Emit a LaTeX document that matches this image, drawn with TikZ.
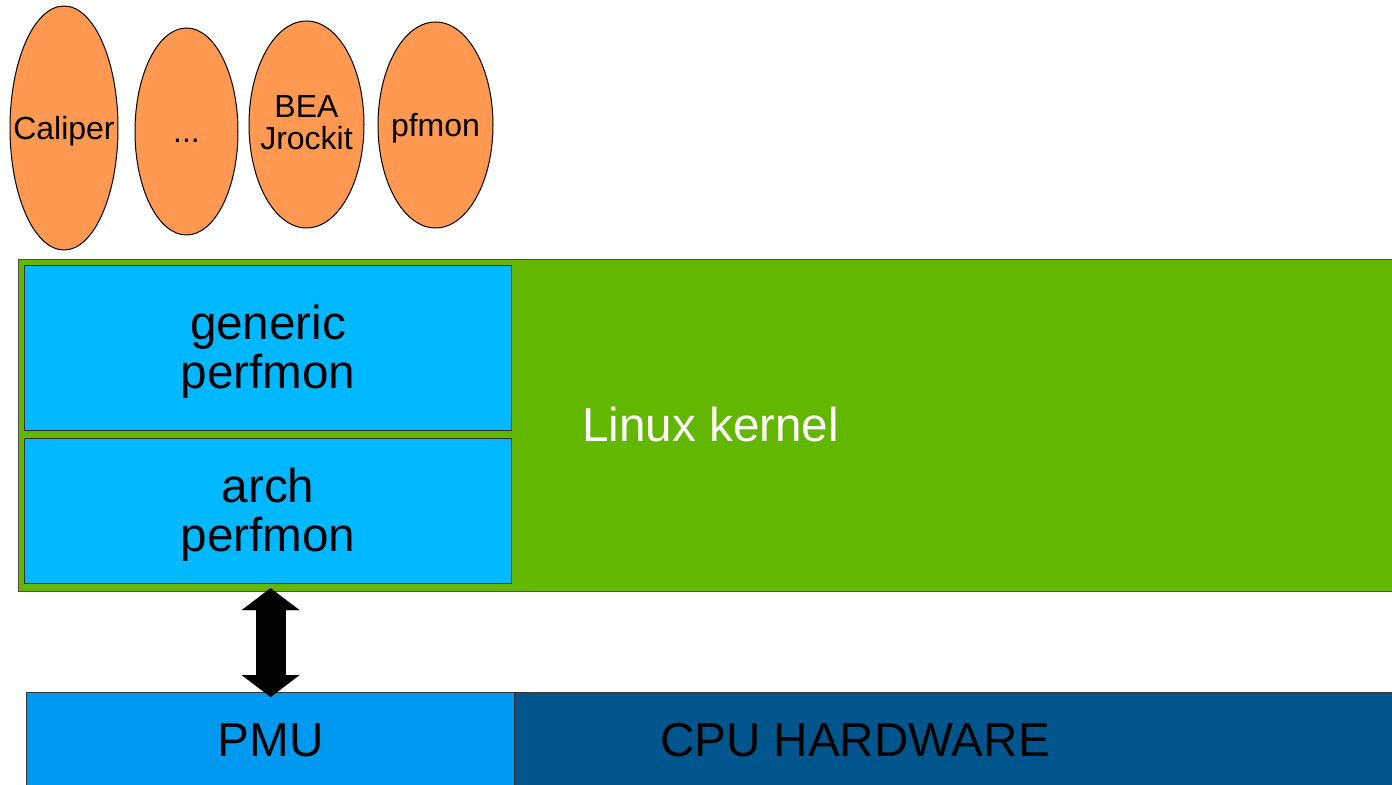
\documentclass[tikz,border=0pt]{standalone}
\usepackage{fontspec}
\setmainfont{Liberation Sans}
\usetikzlibrary{shapes.geometric,arrows.meta}

\definecolor{appfill}{HTML}{FF9850}
\definecolor{kernelfill}{HTML}{64B700}
\definecolor{pmfill}{HTML}{00B8FF}
\definecolor{pmufill}{HTML}{0099F0}
\definecolor{cpufill}{HTML}{00558D}

\begin{document}
\begin{tikzpicture}[x=0.5pt,y=-0.5pt,
  app/.style={ellipse, draw=black, line width=0.5pt, fill=appfill, inner sep=0pt},
  apptext/.style={font=\fontsize{16}{16}\selectfont, align=center, inner sep=0pt,
    text height=15.5pt, text depth=4pt},
  apptwo/.style={apptext, text height=29.5pt},
  block/.style={rectangle, draw=black!80, line width=0.6pt, anchor=north west, inner sep=0pt},
  blocktext/.style={font=\fontsize{23.8}{24.5}\selectfont, align=center,
    text height=23pt, text depth=5.9pt},
  blocktwo/.style={blocktext, text height=46.4pt},
  bus/.style={line width=15pt,
    {Triangle[width=29pt,length=11pt,line width=0.1pt]}-{Triangle[width=29pt,length=11pt,line width=0.1pt]}}
]
\clip (0,0) rectangle (1392,785);

% ===== Tools on top =====
\node[app, minimum width=54pt, minimum height=122pt] (caliper) at (64,128) {};
\node[apptext] (caliperlabel) at (caliper) {Caliper};
\node[app, minimum width=51.5pt, minimum height=103.5pt] (more) at (186.5,131.5) {};
\node[apptext] (morelabel) at (more) {...};
\node[app, minimum width=57.5pt, minimum height=103.5pt] (jrockit) at (306.5,124.5) {};
\node[apptwo] (jrockitlabel) at (jrockit) {BEA\\Jrockit};
\node[app, minimum width=57.5pt, minimum height=103pt] (pfmon) at (435.5,125) {};
\node[apptext] (pfmonlabel) at (pfmon) {pfmon};

% ===== Kernel =====
\node[block, draw=black!70, fill=kernelfill, minimum width=691pt, minimum height=166pt] (kernel) at (18,259) {};
\node[blocktext, text=white, anchor=base west, inner sep=0pt] (kernellabel) at (582,442) {Linux kernel};
\node[block, blocktwo, fill=pmfill, minimum width=243.5pt, minimum height=82.5pt] (generic) at (24,265) {generic\\perfmon};
\node[block, blocktwo, fill=pmfill, minimum width=243.5pt, minimum height=72.5pt] (arch) at (24,438) {arch\\perfmon};

% ===== Hardware =====
\node[block, blocktext, fill=pmufill, minimum width=244pt, minimum height=47pt] (pmu) at (26,692) {PMU};
\node[block, fill=cpufill, minimum width=443pt, minimum height=47pt] (cpu) at (514,692) {};
\node[blocktext, anchor=base] (cpulabel) at (855,756) {CPU HARDWARE};

\draw[bus] ([yshift=-2pt]arch.south -| pmu.north) -- ([yshift=-2.5pt]pmu.north);

\end{tikzpicture}
\end{document}
